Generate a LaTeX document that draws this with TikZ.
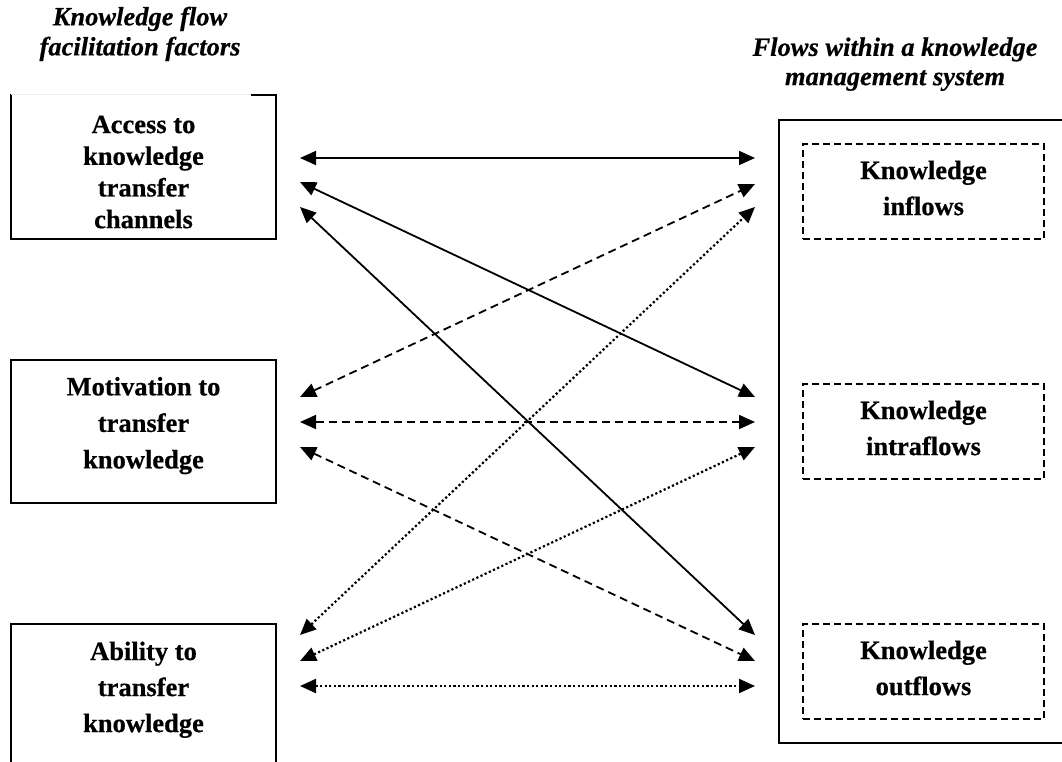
\documentclass[tikz,border=0pt]{standalone}
\usepackage{fontspec}
\setmainfont{Liberation Serif}[BoldFeatures={FakeBold=0.5},BoldItalicFeatures={FakeBold=0.5}]
\usetikzlibrary{arrows.meta}
\begin{document}
\begin{tikzpicture}[x=1pt,y=-1pt,
  boxline/.style={line width=2pt, line cap=rect},
  lbl/.style={inner sep=0pt, align=center, font=\bfseries\fontsize{26.5}{36}\selectfont},
  ttl/.style={inner sep=0pt, align=center, font=\bfseries\itshape\fontsize{26.5}{30}\selectfont},
  conn/.style={line width=1.8pt, {Triangle[length=16pt,width=14pt]}-{Triangle[length=16pt,width=14pt]}},
  solidc/.style={conn},
  dashc/.style={conn, dash pattern=on 8pt off 5pt},
  dotc/.style={conn, line width=2.2pt, dash pattern=on 2.2pt off 2.4pt},
  innerbox/.style={draw, line width=1.8pt, dash pattern=on 7pt off 4pt, minimum width=241pt, minimum height=95pt, inner sep=0pt}
]
\useasboundingbox (0,0) rectangle (1062,762);

% titles
\node[ttl] (tleft) at (140,33.9) {Knowledge flow\\facilitation factors};
\node[ttl, font=\bfseries\itshape\fontsize{26.5}{29.3}\selectfont] (tright) at (895,64.2) {Flows within a knowledge\\management system};

% left boxes
\node[minimum width=265pt, minimum height=144pt, inner sep=0pt] (access) at (143.5,167) {};
\draw[boxline] (access.north east) -- (access.south east) -- (access.south west) -- (access.north west);
\draw[line width=1.2pt, black!8] (access.north west) -- ([xshift=-24pt]access.north east);
\draw[boxline] ([xshift=-24pt]access.north east) -- (access.north east);
\node[lbl, font=\bfseries\fontsize{26.5}{31.7}\selectfont] (accesst) at (143.5,172) {Access to\\knowledge\\transfer\\channels};

\node[draw, boxline, minimum width=265pt, minimum height=143pt, inner sep=0pt] (motiv) at (143.5,431.5) {};
\node[lbl, font=\bfseries\fontsize{26.5}{36.5}\selectfont] (motivt) at (143.5,425.6) {Motivation to\\transfer\\knowledge};

\node[minimum width=265pt, minimum height=150pt, inner sep=0pt] (ability) at (143.5,699) {};
\draw[boxline] ([yshift=-10pt]ability.south west) -- (ability.north west) -- (ability.north east) -- ([yshift=-10pt]ability.south east);
\node[lbl] (abilityt) at (143.5,689.75) {Ability to\\transfer\\knowledge};

% right outer box
\node[minimum width=300pt, minimum height=623pt, inner sep=0pt] (kms) at (929,431.5) {};
\draw[line width=2.2pt] (kms.north east) -- (kms.north west) -- (kms.south west) -- (kms.south east);

% inner dashed boxes
\node[innerbox] (inflow) at (923.5,191.5) {};
\node[lbl] (inflowt) at (923.5,188) {Knowledge\\inflows};
\node[innerbox] (intra) at (923.5,431.5) {};
\node[lbl] (intrat) at (923.5,428) {Knowledge\\intraflows};
\node[innerbox] (outflow) at (923.5,671.5) {};
\node[lbl] (outflowt) at (923.5,668) {Knowledge\\outflows};

% arrow end points
\coordinate (a1) at (300,158);
\coordinate (a2) at (300,182);
\coordinate (a3) at (300,207);
\coordinate (m1) at (300,397);
\coordinate (m2) at (300,422);
\coordinate (m3) at (300,447);
\coordinate (b1) at (300,635);
\coordinate (b2) at (300,661);
\coordinate (b3) at (300,686);
\coordinate (i1) at (755,158);
\coordinate (i2) at (755,184);
\coordinate (i3) at (755,207);
\coordinate (t1) at (755,397);
\coordinate (t2) at (755,422);
\coordinate (t3) at (755,447);
\coordinate (o1) at (755,635);
\coordinate (o2) at (755,661);
\coordinate (o3) at (755,686);

% connectors
\draw[solidc] (a1) -- (i1);
\draw[solidc] (a2) -- (t1);
\draw[solidc] (a3) -- (o1);
\draw[dashc] (m1) -- (i2);
\draw[dashc] (m2) -- (t2);
\draw[dashc] (m3) -- (o2);
\draw[dotc] (b1) -- (i3);
\draw[dotc] (b2) -- (t3);
\draw[dotc] (b3) -- (o3);
\end{tikzpicture}
\end{document}
